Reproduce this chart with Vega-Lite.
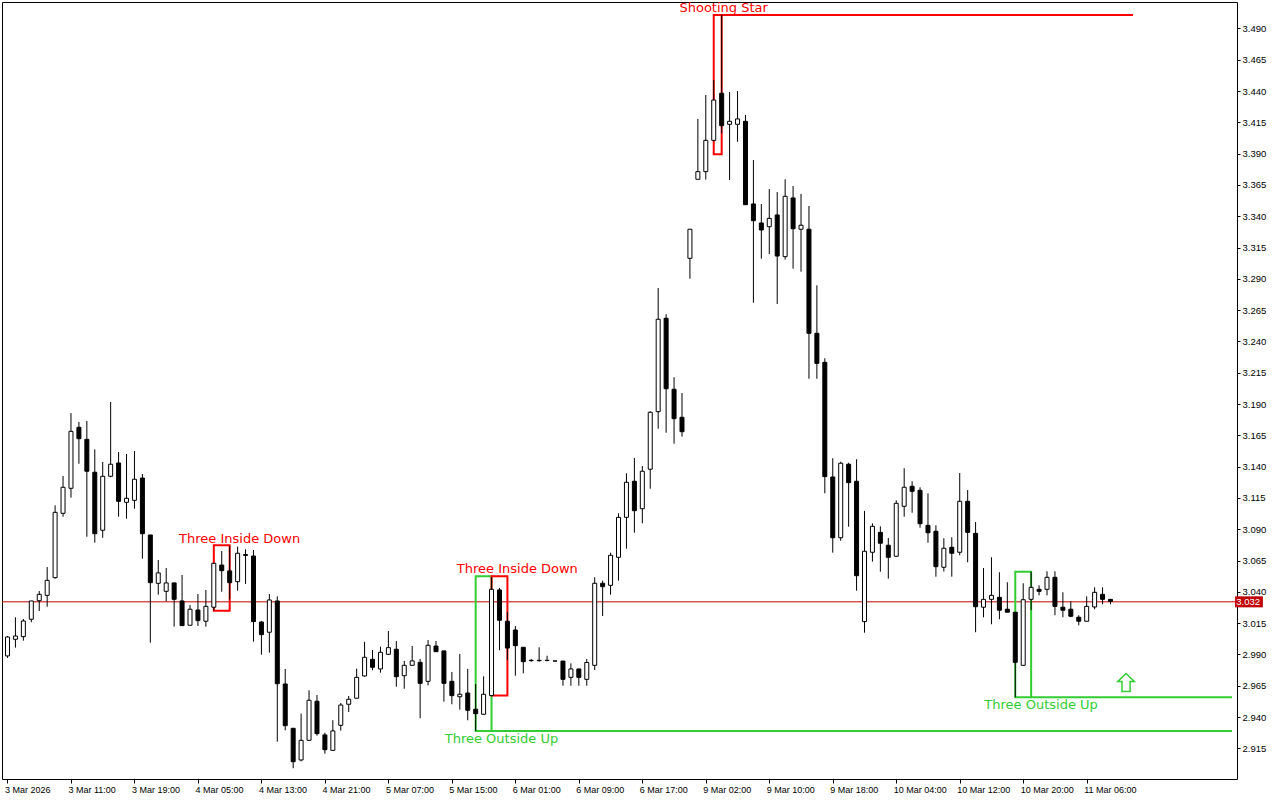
{
 "$schema": "https://vega.github.io/schema/vega-lite/v6.json",
 "width": 1235, "height": 777,
 "autosize": {"type": "none"},
 "padding": {"left": 2, "top": 2, "right": 43, "bottom": 21},
 "background": "white",
 "config": {
  "view": {"stroke": "black", "strokeWidth": 1},
  "axis": {"labelOverlap": false, "labelBound": false, "labelFlush": false, "grid": false, "domain": false, "tickColor": "black", "labelColor": "black", "labelFont": "Liberation Sans", "labelFontSize": 9, "title": null},
  "axisY": {"labelFontSize": 9.5}
 },
 "datasets": {
  "candles": [
{"i":0,"o":2.9888,"h":3.0047,"l":2.9872,"c":3.0039},
{"i":1,"o":3.0021,"h":3.0197,"l":2.9954,"c":3.0047},
{"i":2,"o":3.0042,"h":3.0183,"l":3.0010,"c":3.0167},
{"i":3,"o":3.0181,"h":3.0327,"l":3.0157,"c":3.0327},
{"i":4,"o":3.0329,"h":3.0407,"l":3.0247,"c":3.0380},
{"i":5,"o":3.0372,"h":3.0598,"l":3.0281,"c":3.0492},
{"i":6,"o":3.0513,"h":3.1091,"l":3.0505,"c":3.1035},
{"i":7,"o":3.1027,"h":3.1325,"l":3.1000,"c":3.1235},
{"i":8,"o":3.1227,"h":3.1828,"l":3.1152,"c":3.1682},
{"i":9,"o":3.1714,"h":3.1757,"l":3.1423,"c":3.1623},
{"i":10,"o":3.1618,"h":3.1765,"l":3.0840,"c":3.1363},
{"i":11,"o":3.1355,"h":3.1538,"l":3.0792,"c":3.0864},
{"i":12,"o":3.0892,"h":3.1437,"l":3.0832,"c":3.1323},
{"i":13,"o":3.1323,"h":3.1916,"l":3.1315,"c":3.1419},
{"i":14,"o":3.1429,"h":3.1517,"l":3.1000,"c":3.1123},
{"i":15,"o":3.1115,"h":3.1501,"l":3.0984,"c":3.1147},
{"i":16,"o":3.1131,"h":3.1525,"l":3.1064,"c":3.1299},
{"i":17,"o":3.1309,"h":3.1341,"l":3.0665,"c":3.0864},
{"i":18,"o":3.0854,"h":3.0854,"l":2.9994,"c":3.0473},
{"i":19,"o":3.0468,"h":3.0654,"l":3.0377,"c":3.0551},
{"i":20,"o":3.0404,"h":3.0590,"l":3.0324,"c":3.0471},
{"i":21,"o":3.0471,"h":3.0471,"l":3.0122,"c":3.0340},
{"i":22,"o":3.0327,"h":3.0535,"l":3.0130,"c":3.0130},
{"i":23,"o":3.0133,"h":3.0295,"l":3.0133,"c":3.0261},
{"i":24,"o":3.0255,"h":3.0383,"l":3.0127,"c":3.0170},
{"i":25,"o":3.0165,"h":3.0415,"l":3.0122,"c":3.0284},
{"i":26,"o":3.0277,"h":3.0628,"l":3.0249,"c":3.0628},
{"i":27,"o":3.0614,"h":3.0726,"l":3.0401,"c":3.0569},
{"i":28,"o":3.0567,"h":3.0766,"l":3.0340,"c":3.0473},
{"i":29,"o":3.0481,"h":3.0761,"l":3.0409,"c":3.0708},
{"i":30,"o":3.0690,"h":3.0740,"l":3.0463,"c":3.0698},
{"i":31,"o":3.0686,"h":3.0734,"l":3.0002,"c":3.0162},
{"i":32,"o":3.0159,"h":3.0167,"l":2.9898,"c":3.0058},
{"i":33,"o":3.0077,"h":3.0383,"l":2.9914,"c":3.0335},
{"i":34,"o":3.0327,"h":3.0364,"l":2.9203,"c":2.9666},
{"i":35,"o":2.9664,"h":2.9784,"l":2.9294,"c":2.9331},
{"i":36,"o":2.9310,"h":2.9310,"l":2.8991,"c":2.9043},
{"i":37,"o":2.9057,"h":2.9427,"l":2.9046,"c":2.9214},
{"i":38,"o":2.9214,"h":2.9614,"l":2.9214,"c":2.9534},
{"i":39,"o":2.9526,"h":2.9576,"l":2.9251,"c":2.9267},
{"i":40,"o":2.9257,"h":2.9275,"l":2.9107,"c":2.9139},
{"i":41,"o":2.9134,"h":2.9374,"l":2.9134,"c":2.9289},
{"i":42,"o":2.9334,"h":2.9512,"l":2.9291,"c":2.9496},
{"i":43,"o":2.9502,"h":2.9568,"l":2.9440,"c":2.9542},
{"i":44,"o":2.9550,"h":2.9786,"l":2.9550,"c":2.9717},
{"i":45,"o":2.9728,"h":3.0001,"l":2.9722,"c":2.9877},
{"i":46,"o":2.9861,"h":2.9935,"l":2.9774,"c":2.9797},
{"i":47,"o":2.9784,"h":2.9962,"l":2.9754,"c":2.9917},
{"i":48,"o":2.9901,"h":3.0087,"l":2.9896,"c":2.9954},
{"i":49,"o":2.9941,"h":3.0007,"l":2.9642,"c":2.9722},
{"i":50,"o":2.9730,"h":2.9848,"l":2.9626,"c":2.9813},
{"i":51,"o":2.9813,"h":2.9967,"l":2.9813,"c":2.9848},
{"i":52,"o":2.9837,"h":2.9864,"l":2.9390,"c":2.9669},
{"i":53,"o":2.9685,"h":3.0015,"l":2.9653,"c":2.9973},
{"i":54,"o":2.9967,"h":3.0007,"l":2.9922,"c":2.9922},
{"i":55,"o":2.9928,"h":2.9928,"l":2.9523,"c":2.9669},
{"i":56,"o":2.9685,"h":2.9760,"l":2.9502,"c":2.9571},
{"i":57,"o":2.9562,"h":2.9904,"l":2.9459,"c":2.9582},
{"i":58,"o":2.9592,"h":2.9784,"l":2.9374,"c":2.9454},
{"i":59,"o":2.9462,"h":2.9664,"l":2.9289,"c":2.9427},
{"i":60,"o":2.9422,"h":2.9725,"l":2.9422,"c":2.9582},
{"i":61,"o":2.9571,"h":3.0518,"l":2.9571,"c":3.0420},
{"i":62,"o":3.0415,"h":3.0431,"l":2.9933,"c":3.0173},
{"i":63,"o":3.0165,"h":3.0239,"l":2.9856,"c":2.9951},
{"i":64,"o":3.0095,"h":3.0127,"l":2.9730,"c":2.9970},
{"i":65,"o":2.9957,"h":2.9957,"l":2.9749,"c":2.9842},
{"i":66,"o":2.9853,"h":2.9864,"l":2.9842,"c":2.9850},
{"i":67,"o":2.9853,"h":2.9957,"l":2.9842,"c":2.9850},
{"i":68,"o":2.9853,"h":2.9890,"l":2.9846,"c":2.9851},
{"i":69,"o":2.9848,"h":2.9848,"l":2.9847,"c":2.9847},
{"i":70,"o":2.9847,"h":2.9847,"l":2.9650,"c":2.9701},
{"i":71,"o":2.9717,"h":2.9829,"l":2.9650,"c":2.9784},
{"i":72,"o":2.9784,"h":2.9784,"l":2.9650,"c":2.9717},
{"i":73,"o":2.9701,"h":2.9864,"l":2.9650,"c":2.9836},
{"i":74,"o":2.9813,"h":3.0516,"l":2.9776,"c":3.0468},
{"i":75,"o":3.0468,"h":3.0489,"l":3.0207,"c":3.0441},
{"i":76,"o":3.0452,"h":3.0713,"l":3.0377,"c":3.0692},
{"i":77,"o":3.0676,"h":3.1027,"l":3.0489,"c":3.0995},
{"i":78,"o":3.0995,"h":3.1347,"l":3.0745,"c":3.1275},
{"i":79,"o":3.1283,"h":3.1469,"l":3.0872,"c":3.1048},
{"i":80,"o":3.1064,"h":3.1405,"l":3.0947,"c":3.1363},
{"i":81,"o":3.1379,"h":3.1842,"l":3.1224,"c":3.1834},
{"i":82,"o":3.1839,"h":3.2827,"l":3.1703,"c":3.2577},
{"i":83,"o":3.2585,"h":3.2617,"l":3.1671,"c":3.2022},
{"i":84,"o":3.2018,"h":3.2114,"l":3.1583,"c":3.1783},
{"i":85,"o":3.1794,"h":3.1988,"l":3.1639,"c":3.1679},
{"i":86,"o":3.3064,"h":3.3296,"l":3.2901,"c":3.3296},
{"i":87,"o":3.3695,"h":3.4177,"l":3.3695,"c":3.3756},
{"i":88,"o":3.3756,"h":3.4368,"l":3.3692,"c":3.4006},
{"i":89,"o":3.4006,"h":3.4488,"l":3.3998,"c":3.4328},
{"i":90,"o":3.4382,"h":3.5007,"l":3.4062,"c":3.4123},
{"i":91,"o":3.4134,"h":3.4392,"l":3.3689,"c":3.4158},
{"i":92,"o":3.4134,"h":3.4400,"l":3.3995,"c":3.4177},
{"i":93,"o":3.4158,"h":3.4209,"l":3.3492,"c":3.3492},
{"i":94,"o":3.3498,"h":3.3849,"l":3.2709,"c":3.3364},
{"i":95,"o":3.3346,"h":3.3498,"l":3.3061,"c":3.3290},
{"i":96,"o":3.3316,"h":3.3617,"l":3.3098,"c":3.3383},
{"i":97,"o":3.3410,"h":3.3593,"l":3.2699,"c":3.3082},
{"i":98,"o":3.3077,"h":3.3695,"l":3.3053,"c":3.3559},
{"i":99,"o":3.3546,"h":3.3641,"l":3.2981,"c":3.3300},
{"i":100,"o":3.3296,"h":3.3578,"l":3.2957,"c":3.3328},
{"i":101,"o":3.3296,"h":3.3482,"l":3.2102,"c":3.2465},
{"i":102,"o":3.2465,"h":3.2848,"l":3.2102,"c":3.2225},
{"i":103,"o":3.2233,"h":3.2265,"l":3.1187,"c":3.1320},
{"i":104,"o":3.1317,"h":3.1467,"l":3.0713,"c":3.0832},
{"i":105,"o":3.0832,"h":3.1439,"l":3.0808,"c":3.1427},
{"i":106,"o":3.1419,"h":3.1431,"l":3.0920,"c":3.1272},
{"i":107,"o":3.1283,"h":3.1459,"l":3.0409,"c":3.0529},
{"i":108,"o":3.0162,"h":3.1046,"l":3.0074,"c":3.0724},
{"i":109,"o":3.0716,"h":3.0947,"l":3.0641,"c":3.0923},
{"i":110,"o":3.0875,"h":3.0923,"l":3.0561,"c":3.0788},
{"i":111,"o":3.0772,"h":3.0830,"l":3.0505,"c":3.0676},
{"i":112,"o":3.0684,"h":3.1131,"l":3.0684,"c":3.1107},
{"i":113,"o":3.1083,"h":3.1387,"l":3.1000,"c":3.1235},
{"i":114,"o":3.1243,"h":3.1283,"l":3.1032,"c":3.1203},
{"i":115,"o":3.1211,"h":3.1235,"l":3.0912,"c":3.0944},
{"i":116,"o":3.0931,"h":3.1187,"l":3.0792,"c":3.0872},
{"i":117,"o":3.0884,"h":3.0931,"l":3.0521,"c":3.0601},
{"i":118,"o":3.0596,"h":3.0828,"l":3.0562,"c":3.0748},
{"i":119,"o":3.0756,"h":3.0836,"l":3.0521,"c":3.0708},
{"i":120,"o":3.0716,"h":3.1349,"l":3.0692,"c":3.1123},
{"i":121,"o":3.1123,"h":3.1213,"l":3.0636,"c":3.0875},
{"i":122,"o":3.0867,"h":3.0958,"l":3.0077,"c":3.0281},
{"i":123,"o":3.0277,"h":3.0590,"l":3.0197,"c":3.0340},
{"i":124,"o":3.0340,"h":3.0676,"l":3.0141,"c":3.0372},
{"i":125,"o":3.0356,"h":3.0556,"l":3.0181,"c":3.0253},
{"i":126,"o":3.0261,"h":3.0476,"l":3.0237,"c":3.0237},
{"i":127,"o":3.0237,"h":3.0237,"l":2.9558,"c":2.9837},
{"i":128,"o":2.9813,"h":3.0468,"l":2.9813,"c":3.0337},
{"i":129,"o":3.0340,"h":3.0561,"l":3.0253,"c":3.0436},
{"i":130,"o":3.0420,"h":3.0452,"l":3.0372,"c":3.0404},
{"i":131,"o":3.0420,"h":3.0564,"l":3.0372,"c":3.0516},
{"i":132,"o":3.0516,"h":3.0564,"l":3.0213,"c":3.0284},
{"i":133,"o":3.0277,"h":3.0396,"l":3.0197,"c":3.0253},
{"i":134,"o":3.0261,"h":3.0324,"l":3.0197,"c":3.0205},
{"i":135,"o":3.0197,"h":3.0213,"l":3.0133,"c":3.0165},
{"i":136,"o":3.0165,"h":3.0364,"l":3.0165,"c":3.0284},
{"i":137,"o":3.0279,"h":3.0436,"l":3.0261,"c":3.0396},
{"i":138,"o":3.0380,"h":3.0436,"l":3.0301,"c":3.0340},
{"i":139,"o":3.0340,"h":3.0340,"l":3.0301,"c":3.0324}
  ],
  "patterns": [
   {"name":"Three Inside Down","kind":"bear","i1":26,"i2":28,"top":3.0772,"bot":3.0249,"lx":29.25,"ly":3.0792},
   {"name":"Three Outside Up","kind":"bull","i1":59,"i2":61,"top":3.0524,"bot":2.9289,"lx":62.25,"ly":2.9190},
   {"name":"Three Inside Down","kind":"bear","i1":61,"i2":63,"top":3.0524,"bot":2.9571,"lx":64.25,"ly":3.0548},
   {"name":"Shooting Star","kind":"bear","i1":89,"i2":90,"top":3.5007,"bot":3.3895,"lx":90.25,"ly":3.5034},
   {"name":"Three Outside Up","kind":"bull","i1":127,"i2":129,"top":3.0561,"bot":2.9558,"lx":130.25,"ly":2.9461}
  ],
  "levels": [
   {"kind":"bear","i1":90,"i2":141.84,"p":3.5007},
   {"kind":"bull","i1":61,"i2":154.31,"p":2.9289},
   {"kind":"bull","i1":129,"i2":154.31,"p":2.9558}
  ],
  "signal": [{"i":140.96,"p":2.9676}],
  "last": [{"p":3.032,"label":"3.032"}]
 },
 "layer": [
  {
   "data": {"name": "last"},
   "mark": {"type": "rule", "color": "#c00000", "strokeWidth": 1},
   "encoding": {
    "y": {"field": "p", "type": "quantitative", "scale": {"domain": [2.8905, 3.5111], "nice": false, "zero": false},
      "axis": {"orient": "right", "title": null, "values": [2.915,2.94,2.965,2.99,3.015,3.04,3.065,3.09,3.115,3.14,3.165,3.19,3.215,3.24,3.265,3.29,3.315,3.34,3.365,3.39,3.415,3.44,3.465,3.49], "format": ".3f", "tickSize": 3, "labelPadding": 2}}
   }
  },
  {
   "data": {"name": "patterns"},
   "mark": {"type": "rect", "filled": false, "strokeWidth": 2},
   "encoding": {
    "x": {"field": "i1", "type": "quantitative", "scale": {"domain": [-0.0625, 154.3125], "nice": false, "zero": false},
      "axis": {"orient": "bottom", "title": null, "values": [0,8,16,24,32,40,48,56,64,72,80,88,96,104,112,120,128,136],
       "labelExpr": "['3 Mar 2026','3 Mar 11:00','3 Mar 19:00','4 Mar 05:00','4 Mar 13:00','4 Mar 21:00','5 Mar 07:00','5 Mar 15:00','6 Mar 01:00','6 Mar 09:00','6 Mar 17:00','9 Mar 02:00','9 Mar 10:00','9 Mar 18:00','10 Mar 04:00','10 Mar 12:00','10 Mar 20:00','11 Mar 06:00'][round(datum.value/8)]",
       "tickSize": 4, "labelAlign": "left", "labelBaseline": "top", "labelPadding": 2, "labelOffset": -3}},
    "x2": {"field": "i2"},
    "y": {"field": "top", "type": "quantitative",
      "axis": {"orient": "right", "title": null, "values": [2.915,2.94,2.965,2.99,3.015,3.04,3.065,3.09,3.115,3.14,3.165,3.19,3.215,3.24,3.265,3.29,3.315,3.34,3.365,3.39,3.415,3.44,3.465,3.49], "format": ".3f", "tickSize": 3, "labelPadding": 2}},
    "y2": {"field": "bot"},
    "stroke": {"field": "kind", "type": "nominal", "scale": {"domain": ["bear", "bull"], "range": ["#ff0000", "#32cd32"]}, "legend": null}
   }
  },
  {
   "data": {"name": "levels"},
   "mark": {"type": "rule", "strokeWidth": 2},
   "encoding": {
    "x": {"field": "i1", "type": "quantitative",
      "axis": {"orient": "bottom", "title": null, "values": [0,8,16,24,32,40,48,56,64,72,80,88,96,104,112,120,128,136],
       "labelExpr": "['3 Mar 2026','3 Mar 11:00','3 Mar 19:00','4 Mar 05:00','4 Mar 13:00','4 Mar 21:00','5 Mar 07:00','5 Mar 15:00','6 Mar 01:00','6 Mar 09:00','6 Mar 17:00','9 Mar 02:00','9 Mar 10:00','9 Mar 18:00','10 Mar 04:00','10 Mar 12:00','10 Mar 20:00','11 Mar 06:00'][round(datum.value/8)]",
       "tickSize": 4, "labelAlign": "left", "labelBaseline": "top", "labelPadding": 2, "labelOffset": -3}},
    "x2": {"field": "i2"},
    "y": {"field": "p", "type": "quantitative",
      "axis": {"orient": "right", "title": null, "values": [2.915,2.94,2.965,2.99,3.015,3.04,3.065,3.09,3.115,3.14,3.165,3.19,3.215,3.24,3.265,3.29,3.315,3.34,3.365,3.39,3.415,3.44,3.465,3.49], "format": ".3f", "tickSize": 3, "labelPadding": 2}},
    "stroke": {"field": "kind", "type": "nominal", "legend": null}
   }
  },
  {
   "data": {"name": "candles"},
   "mark": {"type": "rule", "color": "black", "strokeWidth": 1},
   "encoding": {
    "x": {"field": "i", "type": "quantitative",
      "axis": {"orient": "bottom", "title": null, "values": [0,8,16,24,32,40,48,56,64,72,80,88,96,104,112,120,128,136],
       "labelExpr": "['3 Mar 2026','3 Mar 11:00','3 Mar 19:00','4 Mar 05:00','4 Mar 13:00','4 Mar 21:00','5 Mar 07:00','5 Mar 15:00','6 Mar 01:00','6 Mar 09:00','6 Mar 17:00','9 Mar 02:00','9 Mar 10:00','9 Mar 18:00','10 Mar 04:00','10 Mar 12:00','10 Mar 20:00','11 Mar 06:00'][round(datum.value/8)]",
       "tickSize": 4, "labelAlign": "left", "labelBaseline": "top", "labelPadding": 2, "labelOffset": -3}},
    "y": {"field": "l", "type": "quantitative",
      "axis": {"orient": "right", "title": null, "values": [2.915,2.94,2.965,2.99,3.015,3.04,3.065,3.09,3.115,3.14,3.165,3.19,3.215,3.24,3.265,3.29,3.315,3.34,3.365,3.39,3.415,3.44,3.465,3.49], "format": ".3f", "tickSize": 3, "labelPadding": 2}},
    "y2": {"field": "h"}
   }
  },
  {
   "data": {"name": "candles"},
   "mark": {"type": "bar", "orient": "vertical", "width": 4, "stroke": "black", "strokeWidth": 1},
   "encoding": {
    "x": {"field": "i", "type": "quantitative",
      "axis": {"orient": "bottom", "title": null, "values": [0,8,16,24,32,40,48,56,64,72,80,88,96,104,112,120,128,136],
       "labelExpr": "['3 Mar 2026','3 Mar 11:00','3 Mar 19:00','4 Mar 05:00','4 Mar 13:00','4 Mar 21:00','5 Mar 07:00','5 Mar 15:00','6 Mar 01:00','6 Mar 09:00','6 Mar 17:00','9 Mar 02:00','9 Mar 10:00','9 Mar 18:00','10 Mar 04:00','10 Mar 12:00','10 Mar 20:00','11 Mar 06:00'][round(datum.value/8)]",
       "tickSize": 4, "labelAlign": "left", "labelBaseline": "top", "labelPadding": 2, "labelOffset": -3}},
    "y": {"field": "o", "type": "quantitative",
      "axis": {"orient": "right", "title": null, "values": [2.915,2.94,2.965,2.99,3.015,3.04,3.065,3.09,3.115,3.14,3.165,3.19,3.215,3.24,3.265,3.29,3.315,3.34,3.365,3.39,3.415,3.44,3.465,3.49], "format": ".3f", "tickSize": 3, "labelPadding": 2}},
    "y2": {"field": "c"},
    "fill": {"condition": {"test": "datum.c > datum.o", "value": "white"}, "value": "black"}
   }
  },
  {
   "data": {"name": "patterns"},
   "mark": {"type": "text", "font": "DejaVu Sans", "fontSize": 13, "align": "center", "baseline": "alphabetic"},
   "encoding": {
    "x": {"field": "lx", "type": "quantitative",
      "axis": {"orient": "bottom", "title": null, "values": [0,8,16,24,32,40,48,56,64,72,80,88,96,104,112,120,128,136],
       "labelExpr": "['3 Mar 2026','3 Mar 11:00','3 Mar 19:00','4 Mar 05:00','4 Mar 13:00','4 Mar 21:00','5 Mar 07:00','5 Mar 15:00','6 Mar 01:00','6 Mar 09:00','6 Mar 17:00','9 Mar 02:00','9 Mar 10:00','9 Mar 18:00','10 Mar 04:00','10 Mar 12:00','10 Mar 20:00','11 Mar 06:00'][round(datum.value/8)]",
       "tickSize": 4, "labelAlign": "left", "labelBaseline": "top", "labelPadding": 2, "labelOffset": -3}},
    "y": {"field": "ly", "type": "quantitative",
      "axis": {"orient": "right", "title": null, "values": [2.915,2.94,2.965,2.99,3.015,3.04,3.065,3.09,3.115,3.14,3.165,3.19,3.215,3.24,3.265,3.29,3.315,3.34,3.365,3.39,3.415,3.44,3.465,3.49], "format": ".3f", "tickSize": 3, "labelPadding": 2}},
    "text": {"field": "name"},
    "fill": {"field": "kind", "type": "nominal", "scale": {"domain": ["bear", "bull"], "range": ["#ff0000", "#32cd32"]}, "legend": null}
   }
  },
  {
   "data": {"name": "signal"},
   "mark": {"type": "point", "shape": "M0,-1L0.92,-0.1L0.45,-0.1L0.45,1L-0.45,1L-0.45,-0.1L-0.92,-0.1Z", "size": 324, "filled": true, "fill": "white", "stroke": "#32cd32", "strokeWidth": 1.5, "opacity": 1},
   "encoding": {
    "x": {"field": "i", "type": "quantitative",
      "axis": {"orient": "bottom", "title": null, "values": [0,8,16,24,32,40,48,56,64,72,80,88,96,104,112,120,128,136],
       "labelExpr": "['3 Mar 2026','3 Mar 11:00','3 Mar 19:00','4 Mar 05:00','4 Mar 13:00','4 Mar 21:00','5 Mar 07:00','5 Mar 15:00','6 Mar 01:00','6 Mar 09:00','6 Mar 17:00','9 Mar 02:00','9 Mar 10:00','9 Mar 18:00','10 Mar 04:00','10 Mar 12:00','10 Mar 20:00','11 Mar 06:00'][round(datum.value/8)]",
       "tickSize": 4, "labelAlign": "left", "labelBaseline": "top", "labelPadding": 2, "labelOffset": -3}},
    "y": {"field": "p", "type": "quantitative",
      "axis": {"orient": "right", "title": null, "values": [2.915,2.94,2.965,2.99,3.015,3.04,3.065,3.09,3.115,3.14,3.165,3.19,3.215,3.24,3.265,3.29,3.315,3.34,3.365,3.39,3.415,3.44,3.465,3.49], "format": ".3f", "tickSize": 3, "labelPadding": 2}}
   }
  },
  {
   "data": {"name": "last"},
   "mark": {"type": "rect", "fill": "#c00000"},
   "encoding": {
    "x": {"datum": 154.7, "type": "quantitative",
      "axis": {"orient": "bottom", "title": null, "values": [0,8,16,24,32,40,48,56,64,72,80,88,96,104,112,120,128,136],
       "labelExpr": "['3 Mar 2026','3 Mar 11:00','3 Mar 19:00','4 Mar 05:00','4 Mar 13:00','4 Mar 21:00','5 Mar 07:00','5 Mar 15:00','6 Mar 01:00','6 Mar 09:00','6 Mar 17:00','9 Mar 02:00','9 Mar 10:00','9 Mar 18:00','10 Mar 04:00','10 Mar 12:00','10 Mar 20:00','11 Mar 06:00'][round(datum.value/8)]",
       "tickSize": 4, "labelAlign": "left", "labelBaseline": "top", "labelPadding": 2, "labelOffset": -3}},
    "x2": {"datum": 158.2},
    "y": {"datum": 3.0276, "type": "quantitative",
      "axis": {"orient": "right", "title": null, "values": [2.915,2.94,2.965,2.99,3.015,3.04,3.065,3.09,3.115,3.14,3.165,3.19,3.215,3.24,3.265,3.29,3.315,3.34,3.365,3.39,3.415,3.44,3.465,3.49], "format": ".3f", "tickSize": 3, "labelPadding": 2}},
    "y2": {"datum": 3.0364}
   }
  },
  {
   "data": {"name": "last"},
   "mark": {"type": "text", "font": "Liberation Sans", "fontSize": 9.5, "color": "white", "align": "left", "baseline": "middle"},
   "encoding": {
    "x": {"datum": 154.85, "type": "quantitative",
      "axis": {"orient": "bottom", "title": null, "values": [0,8,16,24,32,40,48,56,64,72,80,88,96,104,112,120,128,136],
       "labelExpr": "['3 Mar 2026','3 Mar 11:00','3 Mar 19:00','4 Mar 05:00','4 Mar 13:00','4 Mar 21:00','5 Mar 07:00','5 Mar 15:00','6 Mar 01:00','6 Mar 09:00','6 Mar 17:00','9 Mar 02:00','9 Mar 10:00','9 Mar 18:00','10 Mar 04:00','10 Mar 12:00','10 Mar 20:00','11 Mar 06:00'][round(datum.value/8)]",
       "tickSize": 4, "labelAlign": "left", "labelBaseline": "top", "labelPadding": 2, "labelOffset": -3}},
    "y": {"field": "p", "type": "quantitative",
      "axis": {"orient": "right", "title": null, "values": [2.915,2.94,2.965,2.99,3.015,3.04,3.065,3.09,3.115,3.14,3.165,3.19,3.215,3.24,3.265,3.29,3.315,3.34,3.365,3.39,3.415,3.44,3.465,3.49], "format": ".3f", "tickSize": 3, "labelPadding": 2}},
    "text": {"field": "label"}
   }
  }
 ]
}
